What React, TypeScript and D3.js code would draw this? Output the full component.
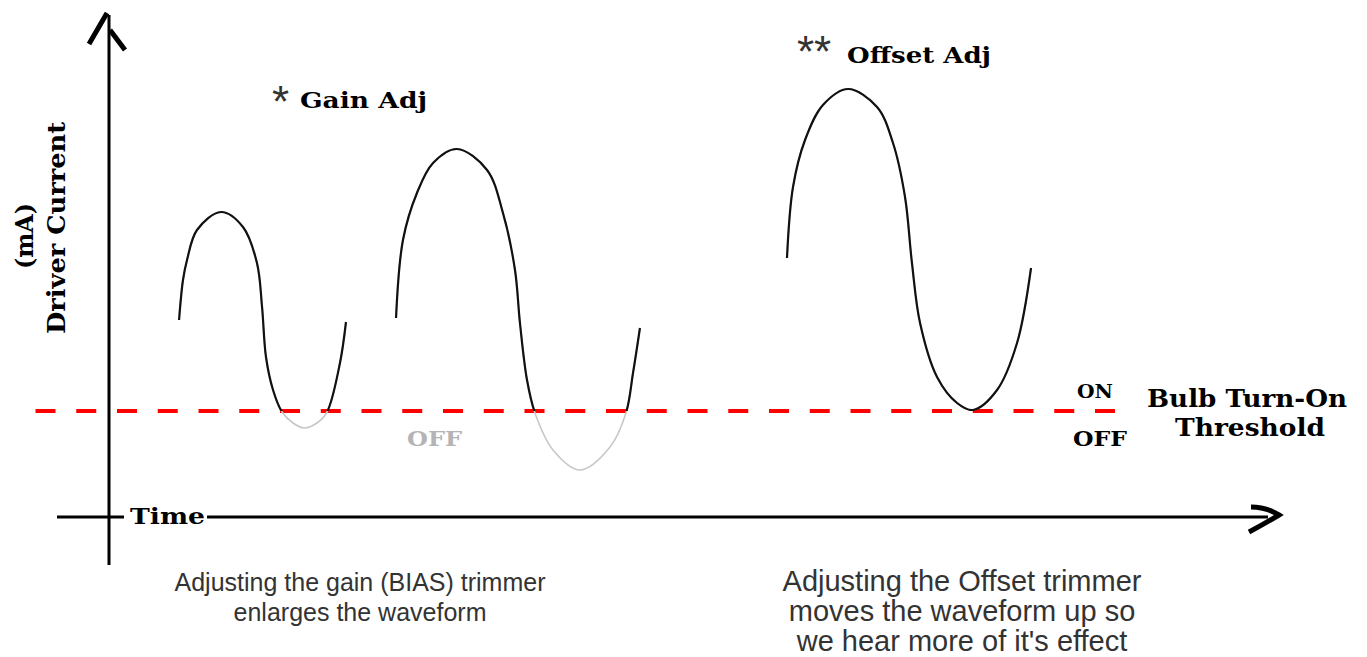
import React from "react";
import * as d3 from "d3";

// waveforms: [time, current] in arbitrary 0-100 units
const gainWaveSmall: [number, number][] = [
  [6.06, 39.4], [6.4, 47.4], [6.75, 51.4], [7.61, 57.4], [9.69, 61.0], [11.59, 58.0],
  [12.8, 50.8], [13.24, 42.0], [13.58, 32.0], [14.19, 25.4], [14.97, 21.0], [15.92, 18.8],
  [16.87, 17.8], [17.99, 18.8], [18.86, 21.0], [19.98, 30.8], [20.5, 39.0],
];
const gainWaveLarge: [number, number][] = [
  [24.83, 39.8], [25.43, 55.4], [26.64, 64.8], [28.03, 70.8], [30.1, 73.6], [32.7, 69.4],
  [34.08, 60.8], [35.12, 49.4], [35.55, 38.8], [36.16, 27.4], [36.85, 20.8], [38.41, 13.4],
  [40.74, 9.4], [43.34, 14.0], [44.72, 20.8], [45.33, 28.8], [45.93, 37.8],
];
const offsetWave: [number, number][] = [
  [58.65, 51.8], [59.17, 66.0], [60.21, 75.4], [61.76, 82.4], [63.93, 85.6], [66.44, 82.0],
  [67.82, 74.8], [68.86, 64.0], [69.46, 50.8], [70.16, 38.8], [71.63, 28.0], [73.36, 22.8],
  [74.74, 21.4], [76.82, 25.4], [78.55, 34.8], [79.76, 49.8],
];
const waves = [gainWaveSmall, gainWaveLarge, offsetWave];
const threshold = 21.2;

const leftCaption = ["Adjusting the gain (BIAS) trimmer", "enlarges the waveform"];
const rightCaption = ["Adjusting the Offset trimmer", "moves the waveform up so", "we hear more of it's effect"];

const W = 1367;
const H = 657;
const serif = "'DejaVu Serif', serif";
const sans = "'Liberation Sans', Arial, sans-serif";

export default function App() {
  const x = d3.scaleLinear().domain([0, 100]).range([109, 1265]);
  const y = d3.scaleLinear().domain([0, 100]).range([517, 17]);

  const line = d3
    .line<[number, number]>()
    .x((d) => x(d[0]))
    .y((d) => y(d[1]))
    .curve(d3.curveCatmullRom.alpha(0.5));

  const x0 = x(0);
  const y0 = y(0);
  const yTop = y(100);
  const yThr = y(threshold);

  return (
    <svg width={W} height={H} style={{ position: "absolute", left: 0, top: 0, background: "#fff" }}>
      <defs>
        <clipPath id="above">
          <rect x={0} y={0} width={W} height={yThr} />
        </clipPath>
      </defs>

      {/* y axis */}
      <line x1={x0} x2={x0} y1={yTop - 2} y2={565} stroke="#000" strokeWidth={3} />
      <path d={`M${x0 - 20},${yTop + 27} L${x0 - 2},${yTop - 4} M${x0 + 1},${yTop + 13} L${x0 + 16},${yTop + 33}`} stroke="#000" strokeWidth={5} fill="none" />

      {/* x axis */}
      <line x1={57} x2={1268} y1={y0} y2={y0} stroke="#000" strokeWidth={3} />
      <path d={`M1251,507 Q1266,507 1279,515 Q1264,524 1249,532`} stroke="#000" strokeWidth={5} fill="none" />
      <rect x={124} y={y0 - 6} width={83} height={12} fill="#fff" />
      <text x={130} y={524} fontFamily={serif} fontWeight="bold" fontSize={22} textLength={75} lengthAdjust="spacingAndGlyphs">Time</text>

      {/* threshold */}
      <line x1={35.5} x2={1118} y1={yThr} y2={yThr} stroke="#ff0000" strokeWidth={4} strokeDasharray="20 20.75" />

      {/* waves: gray below threshold, black above */}
      {waves.map((w, i) => (
        <g key={i}>
          <path d={line(w) || ""} fill="none" stroke="#c8c8c8" strokeWidth={1.6} />
          <path d={line(w) || ""} fill="none" stroke="#111" strokeWidth={2.2} clipPath="url(#above)" />
        </g>
      ))}

      {/* y labels */}
      <text transform="translate(65,228) rotate(-90)" textAnchor="middle" fontFamily={serif} fontWeight="bold" fontSize={24} textLength={212} lengthAdjust="spacingAndGlyphs">Driver Current</text>
      <text transform="translate(33,236) rotate(-90)" textAnchor="middle" fontFamily={serif} fontWeight="bold" fontSize={24} textLength={66} lengthAdjust="spacingAndGlyphs">(mA)</text>

      {/* annotations */}
      <text x={272} y={117} fontFamily={sans} fontSize={44} fill="#333">*</text>
      <text x={300} y={108} fontFamily={serif} fontWeight="bold" fontSize={22} textLength={127} lengthAdjust="spacingAndGlyphs">Gain Adj</text>
      <text x={797} y={67} fontFamily={sans} fontSize={44} fill="#333">**</text>
      <text x={847} y={63} fontFamily={serif} fontWeight="bold" fontSize={22} textLength={144} lengthAdjust="spacingAndGlyphs">Offset Adj</text>

      <text x={1077} y={398} fontFamily={serif} fontWeight="bold" fontSize={19} textLength={36} lengthAdjust="spacingAndGlyphs">ON</text>
      <text x={1073} y={446} fontFamily={serif} fontWeight="bold" fontSize={21} textLength={54} lengthAdjust="spacingAndGlyphs">OFF</text>
      <text x={407} y={446} fontFamily={serif} fontWeight="bold" fontSize={21} fill="#b4b4b4" textLength={55} lengthAdjust="spacingAndGlyphs">OFF</text>
      <text x={1147} y={407} fontFamily={serif} fontWeight="bold" fontSize={25} textLength={200} lengthAdjust="spacingAndGlyphs">Bulb Turn-On</text>
      <text x={1175} y={436} fontFamily={serif} fontWeight="bold" fontSize={25} textLength={150} lengthAdjust="spacingAndGlyphs">Threshold</text>

      {/* captions */}
      {leftCaption.map((t, i) => (
        <text key={t} x={360} y={591 + i * 30} textAnchor="middle" fontFamily={sans} fontSize={25} fill="#333">{t}</text>
      ))}
      {rightCaption.map((t, i) => (
        <text key={t} x={962} y={591 + i * 30} textAnchor="middle" fontFamily={sans} fontSize={29} fill="#333">{t}</text>
      ))}
    </svg>
  );
}
